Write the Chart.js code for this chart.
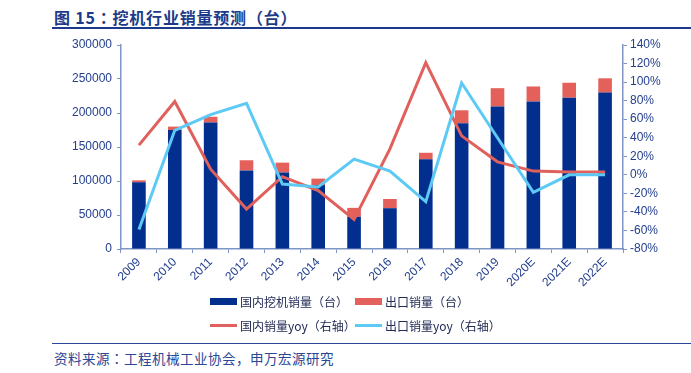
<!DOCTYPE html>
<html>
<head>
<meta charset="utf-8">
<script src="https://cdn.jsdelivr.net/npm/chart.js@4/dist/chart.umd.min.js"></script>
<style>
  body { margin: 0; width: 691px; height: 373px; background: #fff; position: relative; overflow: hidden;
         font-family: "Liberation Sans", "Noto Sans CJK SC", sans-serif; }
  #title { position: absolute; left: 54px; top: 5px; font-size: 16px; font-weight: bold; color: #1d3a8a;
           letter-spacing: 0.8px; font-family: "Noto Sans CJK JP", "Noto Sans CJK SC", sans-serif; }
  #titleLine { position: absolute; left: 52px; right: 0; top: 27px; height: 2px; background: #1d3a8a; }
  #wrap { position: absolute; left: 0; top: 30px; width: 691px; height: 272px; }
  #legend { position: absolute; left: 210px; top: 289px; width: 440px; font-size: 12px; color: #222b55;
            font-family: "Noto Sans CJK SC", sans-serif; }
  .row { position: relative; height: 24px; }
  .item { position: absolute; top: 0; height: 24px; display: flex; align-items: center; }
  .swatch { width: 27px; margin-right: 3px; }
  #footLine { position: absolute; left: 52px; right: 0; top: 343px; height: 1px; background: #2a4696; }
  #foot { position: absolute; left: 54px; top: 348px; font-size: 13.5px; color: #2a4696; letter-spacing: 0.5px;
          font-family: "Noto Sans CJK JP", "Noto Sans CJK SC", sans-serif; }
</style>
</head>
<body>
<div id="title">图 15：挖机行业销量预测（台）</div>
<div id="titleLine"></div>
<div id="wrap"><canvas id="chart"></canvas></div>
<div id="legend"></div>
<div id="footLine"></div>
<div id="foot">资料来源：工程机械工业协会，申万宏源研究</div>
<script>
// Values
const years = ['2009', '2010', '2011', '2012', '2013', '2014', '2015', '2016', '2017', '2018', '2019', '2020E', '2021E', '2022E'];
const domesticSales = [98000, 175000, 186000, 115500, 112500, 94000, 47500, 60000, 132000, 185000, 209500, 217000, 222500, 230000];
const exportSales = [3000, 5000, 8500, 15000, 14500, 9500, 13000, 13500, 9500, 19000, 27000, 22000, 22000, 21000];
const domesticYoy = [32, 79, 6, -37, -2, -17, -48, 28, 121, 42, 14, 4, 3, 3];
const exportYoy = [-59, 48, 65, 77, -10, -13, 17, 4, -29, 99, 40, -19, 0, 0];

const NAVY = '#022f8e';
const SALMON = '#e3605b';
const RED_LINE = '#e0605c';
const SKY = '#5ccaf5';
const AXIS = '#7f95c6';
const TICK = '#24408e';

const ctx = document.getElementById('chart').getContext('2d');
const chart = new Chart(ctx, {
  type: 'bar',
  data: {
    labels: years,
    datasets: [
      {
        label: '国内挖机销量（台）',
        data: domesticSales,
        backgroundColor: NAVY,
        stack: 's',
        yAxisID: 'y',
        order: 3,
        categoryPercentage: 1,
        barPercentage: 0.38,
      },
      {
        label: '出口销量（台）',
        data: exportSales,
        backgroundColor: SALMON,
        stack: 's',
        yAxisID: 'y',
        order: 3,
        categoryPercentage: 1,
        barPercentage: 0.38,
      },
      {
        type: 'line',
        label: '国内销量yoy（右轴）',
        data: domesticYoy,
        borderColor: RED_LINE,
        backgroundColor: RED_LINE,
        borderWidth: 3,
        pointRadius: 0,
        tension: 0,
        yAxisID: 'y1',
        order: 1,
      },
      {
        type: 'line',
        label: '出口销量yoy（右轴）',
        data: exportYoy,
        borderColor: SKY,
        backgroundColor: SKY,
        borderWidth: 3,
        pointRadius: 0,
        tension: 0,
        yAxisID: 'y1',
        order: 0,
      },
    ],
  },
  options: {
    responsive: true,
    maintainAspectRatio: false,
    animation: false,
    layout: { padding: { left: 0, right: 0, top: 15, bottom: 0 } },
    plugins: {
      legend: { display: false }, // custom two-row legend below
      tooltip: { enabled: false },
    },
    scales: {
      x: {
        stacked: true,
        grid: { display: true, drawOnChartArea: false, drawTicks: true, tickLength: 4, color: AXIS },
        border: { color: AXIS, width: 1.5 },
        ticks: {
          color: TICK,
          font: { size: 12, family: 'Liberation Sans' },
          minRotation: 45,
          maxRotation: 45,
          padding: 2,
        },
        afterFit: (scale) => { scale.height = 53; },
      },
      y: {
        stacked: true,
        position: 'left',
        min: 0,
        max: 300000,
        grid: { display: true, drawOnChartArea: false, drawTicks: true, tickLength: 4, color: AXIS },
        border: { color: AXIS, width: 1.5 },
        ticks: {
          stepSize: 50000,
          color: TICK,
          font: { size: 12, family: 'Liberation Sans' },
          padding: 5,
          callback: (v) => String(v),
        },
        afterFit: (scale) => { scale.width = 121; },
      },
      y1: {
        position: 'right',
        min: -80,
        max: 140,
        grid: { display: true, drawOnChartArea: false, drawTicks: true, tickLength: 4, color: AXIS },
        border: { color: AXIS, width: 1.5 },
        ticks: {
          stepSize: 20,
          color: TICK,
          font: { size: 12, family: 'Liberation Sans' },
          padding: 3,
          callback: (v) => `${v}%`,
        },
        afterFit: (scale) => { scale.width = 68; },
      },
    },
  },
});

// Build the two-row legend from the datasets
const legendEl = document.getElementById('legend');
const rows = [[0, 1], [2, 3]];
const colLeft = [0, 145];
rows.forEach((idxs) => {
  const row = document.createElement('div');
  row.className = 'row';
  idxs.forEach((i, col) => {
    const ds = chart.data.datasets[i];
    const item = document.createElement('div');
    item.className = 'item';
    item.style.left = colLeft[col] + 'px';
    const sw = document.createElement('div');
    sw.className = 'swatch';
    sw.style.height = ds.type === 'line' ? '3px' : '7px';
    sw.style.background = ds.type === 'line' ? ds.borderColor : ds.backgroundColor;
    const txt = document.createElement('span');
    txt.textContent = ds.label;
    item.appendChild(sw);
    item.appendChild(txt);
    row.appendChild(item);
  });
  legendEl.appendChild(row);
});
</script>
</body>
</html>
